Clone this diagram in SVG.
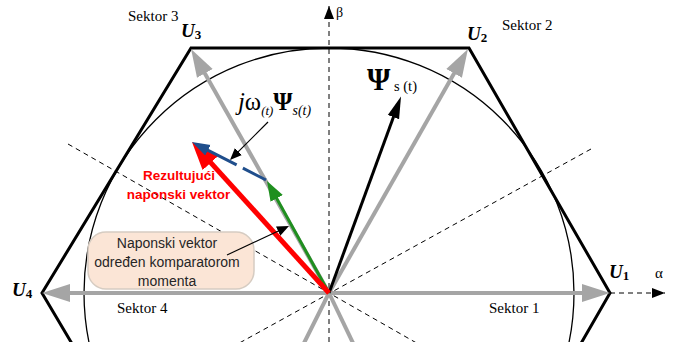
<svg xmlns="http://www.w3.org/2000/svg" width="680" height="342" viewBox="0 0 680 342">
<style>
.serif{font-family:"Liberation Serif","Times New Roman",serif;fill:#000}
.sek{font-size:15px}
.ulab{font-size:19px;font-weight:bold;font-style:italic}
.usub{font-size:13px;font-weight:bold;font-style:normal}
.dash{stroke:#000;stroke-width:1;stroke-dasharray:5 4;fill:none}
.gray{stroke:#A5A5A5;stroke-width:4;fill:none;marker-end:url(#ahGray)}
.red{font-family:"Liberation Sans",Arial,sans-serif;font-size:13.5px;font-weight:bold;fill:#FF0000}
.bub{font-family:"Liberation Sans",Arial,sans-serif;font-size:14px;fill:#262626}
</style>
<defs>
<marker id="ahGray" markerUnits="userSpaceOnUse" viewBox="0 -10 30 20" markerWidth="30" markerHeight="20" refX="20" refY="0" orient="auto"><path d="M0,-9 L28,0 L0,9 z" fill="#A5A5A5"/></marker>
<marker id="ahBlack" markerUnits="userSpaceOnUse" viewBox="0 -8 24 16" markerWidth="24" markerHeight="16" refX="15" refY="0" orient="auto"><path d="M0,-6 L22,0 L0,6 z" fill="#000"/></marker>
<marker id="ahRed" markerUnits="userSpaceOnUse" viewBox="0 -12 30 24" markerWidth="30" markerHeight="24" refX="18" refY="0" orient="auto"><path d="M0,-11 L28,0 L0,11 z" fill="#FF0000"/></marker>
<marker id="ahGreen" markerUnits="userSpaceOnUse" viewBox="0 -8 22 16" markerWidth="22" markerHeight="16" refX="13" refY="0" orient="auto"><path d="M0,-7 L20,0 L0,7 z" fill="#1F8F1F"/></marker>
<marker id="ahBlue" markerUnits="userSpaceOnUse" viewBox="0 -8 20 16" markerWidth="20" markerHeight="16" refX="12" refY="0" orient="auto"><path d="M0,-6 L18,0 L0,6 z" fill="#1F4E8C"/></marker>
<marker id="ahSmall" markerUnits="userSpaceOnUse" viewBox="0 -6 14 12" markerWidth="14" markerHeight="12" refX="9" refY="0" orient="auto"><path d="M0,-5 L12,0 L0,5 z" fill="#000"/></marker>
<marker id="ahAxis" markerUnits="userSpaceOnUse" viewBox="0 -6 14 12" markerWidth="14" markerHeight="12" refX="13" refY="0" orient="auto"><path d="M0,-5 L13,0 L0,5 z" fill="#000"/></marker>
</defs>

<g id="background-geometry">
<circle cx="329" cy="293" r="245" fill="none" stroke="#000" stroke-width="1.3"/>
<polygon points="610,293 469,48 191,48 42,293 187,538 469,538" fill="none" stroke="#000" stroke-width="3"/>
<line class="dash" x1="68" y1="144" x2="590" y2="442"/>
<line class="dash" x1="591" y1="149" x2="69" y2="437"/>
</g>

<g id="axes">
<line class="dash" x1="329" y1="342" x2="329" y2="6" style="marker-end:url(#ahAxis)"/>
<line class="dash" x1="610" y1="293" x2="665" y2="293" style="marker-end:url(#ahAxis)"/>
<text class="serif" x="336" y="17" font-size="14">β</text>
<text class="serif" x="655" y="278" font-size="15">α</text>
</g>

<g id="connectors">
<path class="gray" d="M329,293 L602,293"/>
<path class="gray" d="M329,293 L50,293"/>
<path class="gray" d="M329,293 L464,56"/>
<path class="gray" d="M329,293 L195,56"/>
<path d="M329,293 L304,343" stroke="#A5A5A5" stroke-width="4"/>
<path d="M329,293 L353,343" stroke="#A5A5A5" stroke-width="4"/>
<path id="psi-vector" d="M329,293 L398.6,103" stroke="#000" stroke-width="3" fill="none" marker-end="url(#ahBlack)"/>
<path id="green-vector" d="M329,293 L270.4,187.1" stroke="#1F8F1F" stroke-width="3" fill="none" marker-end="url(#ahGreen)"/>
<path id="red-vector" d="M329,293 L198.7,149.4" stroke="#FF0000" stroke-width="5" fill="none" marker-end="url(#ahRed)"/>
<path id="blue-vector" d="M266,180 L197.3,144.8" stroke="#1F4E8C" stroke-width="3" stroke-dasharray="26 7 60" fill="none" marker-end="url(#ahBlue)"/>
</g>

<g id="bubble">
<rect x="88" y="232" width="166" height="57" rx="18" fill="#FBE5D6" stroke="#D6CCC2" stroke-width="1.5"/>
<text class="bub" text-anchor="middle" x="167" y="248">Naponski vektor</text>
<text class="bub" text-anchor="middle" x="167" y="267">određen komparatorom</text>
<text class="bub" text-anchor="middle" x="167" y="286">momenta</text>
</g>

<g id="callouts">
<path d="M268,122 L232.1,157.9" stroke="#000" stroke-width="1.2" fill="none" marker-end="url(#ahSmall)"/>
<path d="M227,255 L286.3,227.3" stroke="#000" stroke-width="1.2" fill="none" marker-end="url(#ahSmall)"/>
</g>

<g id="label-U1"><text class="serif ulab" x="609" y="278">U<tspan class="usub" dy="2">1</tspan></text></g>
<g id="label-U2"><text class="serif ulab" x="467" y="40">U<tspan class="usub" dy="2">2</tspan></text></g>
<g id="label-U3"><text class="serif ulab" x="181" y="37">U<tspan class="usub" dy="2">3</tspan></text></g>
<g id="label-U4"><text class="serif ulab" x="12" y="296">U<tspan class="usub" dy="2">4</tspan></text></g>

<g id="sector-labels">
<text class="serif sek" x="128" y="21">Sektor 3</text>
<text class="serif sek" x="502" y="30">Sektor 2</text>
<text class="serif sek" x="117" y="313">Sektor 4</text>
<text class="serif sek" x="489" y="313">Sektor 1</text>
</g>

<g id="label-psi">
<text class="serif" x="367" y="90" textLength="50" lengthAdjust="spacingAndGlyphs"><tspan font-size="31" font-weight="bold">Ψ</tspan><tspan font-size="15" dy="1"> s (t)</tspan></text>
</g>

<g id="label-jw">
<text class="serif" x="238" y="110" textLength="73" lengthAdjust="spacingAndGlyphs"><tspan font-size="25" font-style="italic">j</tspan><tspan font-size="25">ω</tspan><tspan font-size="13" font-style="italic" dy="5">(t)</tspan><tspan font-size="25" font-weight="bold" dy="-5">Ψ</tspan><tspan font-size="14" font-style="italic" dy="5">s(t)</tspan></text>
</g>

<g id="label-result">
<text class="red" text-anchor="middle" x="179" y="180">Rezultujući</text>
<text class="red" text-anchor="middle" x="178.5" y="199">naponski vektor</text>
</g>
</svg>
